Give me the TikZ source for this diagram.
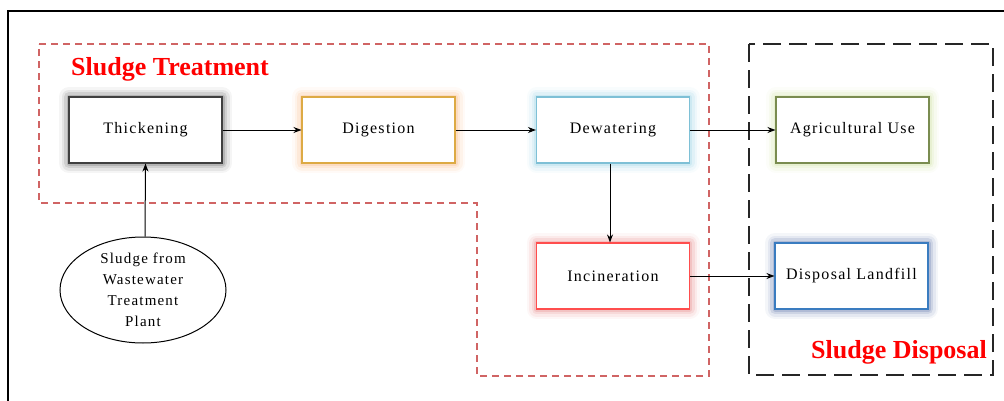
\documentclass[tikz,border=0pt]{standalone}
\usepackage{fontspec}
\setmainfont{Liberation Serif}
\newfontfamily\boxfont[LetterSpace=8]{Liberation Serif}
\usetikzlibrary{arrows.meta,shapes.geometric}
\definecolor{treatred}{RGB}{208,100,100}
\definecolor{titlered}{HTML}{FF0000}
\definecolor{digB}{RGB}{221,170,68}
\definecolor{digG}{RGB}{248,160,90}
\definecolor{dewB}{RGB}{126,192,214}
\definecolor{dewG}{RGB}{120,195,220}
\definecolor{agrB}{RGB}{122,140,80}
\definecolor{agrG}{RGB}{190,215,130}
\definecolor{incB}{RGB}{255,77,77}
\definecolor{incG}{RGB}{220,90,90}
\definecolor{lanB}{RGB}{58,124,192}
\definecolor{lanG}{RGB}{40,70,140}
\tikzset{
  x=1pt,y=1pt,
  glow/.style={
    preaction={draw=#1,line width=20pt,opacity=.05,line join=round},
    preaction={draw=#1,line width=15pt,opacity=.08,line join=round},
    preaction={draw=#1,line width=10pt,opacity=.12,line join=round},
    preaction={draw=#1,line width=5pt,opacity=.18,line join=round}},
  stepbox/.style={rectangle, fill=white, line width=1.1pt, minimum width=153pt,
    minimum height=66pt, inner sep=0pt, font=\boxfont\fontsize{16}{18}\selectfont},
  flow/.style={-{Stealth[length=8pt,width=6pt]}, line width=1pt, black},
  title/.style={font=\fontsize{26}{28}\selectfont\bfseries, text=titlered, inner sep=0pt},
}
\begin{document}
\begin{tikzpicture}
\useasboundingbox (0,0) rectangle (1004,400);
\begin{scope}
\clip (0,0) rectangle (1004,400);
\draw[line width=1.6pt] (8,-20) rectangle (1030,389);
\end{scope}
% region outlines
\draw[treatred, line width=2pt, dash pattern=on 7pt off 5pt]
  (39,356) -- (709,356) -- (709,24) -- (477,24) -- (477,197) -- (39,197) -- cycle;
\draw[black!85, line width=2.5pt, dash pattern=on 18pt off 8pt]
  (749,356) rectangle (993,25);
% titles
\node[title, anchor=west] (t1) at (71,331) {Sludge Treatment};
\node[title, anchor=east] (t2) at (987,48) {Sludge Disposal};
% boxes
\node[stepbox, draw=black!75, glow=black!80] (thick) at (145.5,270) {Thickening};
\node[stepbox, draw=digB, glow=digG] (dig) at (378.5,270) {Digestion};
\node[stepbox, draw=dewB, glow=dewG] (dew) at (613,270) {Dewatering};
\node[stepbox, draw=agrB, glow=agrG] (agr) at (852.5,270) {Agricultural Use};
\node[stepbox, draw=incB, glow=incG] (inc) at (613,124) {Incineration};
\node[stepbox, draw=lanB, glow=lanG] (land) at (851.5,124) {Disposal Landfill};
\node[ellipse, draw, line width=1pt, fill=white, minimum width=166pt, minimum height=106pt, inner sep=0pt,
  align=center, font=\boxfont\fontsize{15}{21}\selectfont] (src) at (143,110)
  {Sludge from\\Wastewater\\Treatment\\Plant};
% connectors
\draw[flow] (thick) -- (dig);
\draw[flow] (dig) -- (dew);
\draw[flow] (dew) -- (agr);
\draw[flow] (inc) -- (land);
\draw[flow] (dew.south -| 610,0) -- (inc.north -| 610,0);
\draw[flow] (src.north -| 145,0) -- (thick.south);
\end{tikzpicture}
\end{document}
